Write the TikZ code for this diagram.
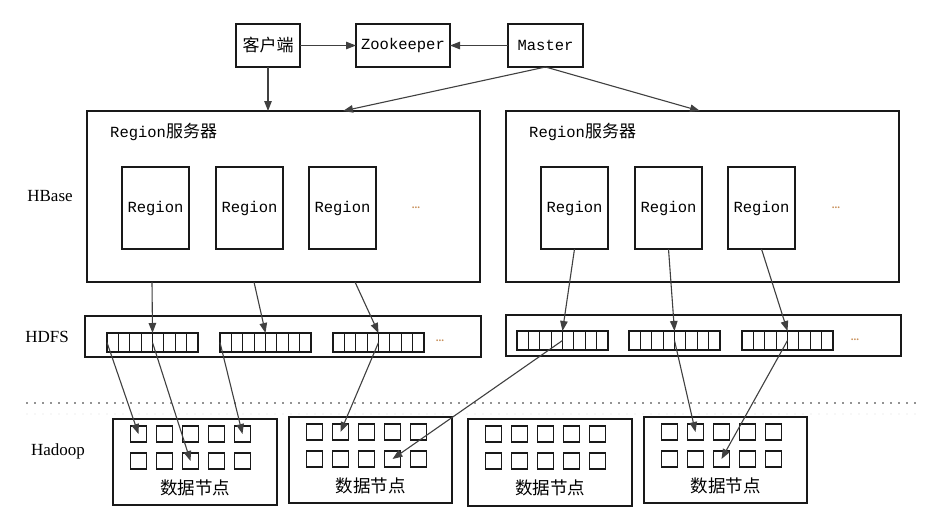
\documentclass[tikz,border=0pt]{standalone}
\usepackage{fontspec}
\setmainfont{Liberation Serif}
\newfontfamily\cjk{Noto Sans CJK SC}
\newfontfamily\monof{Liberation Mono}
\usetikzlibrary{arrows.meta,calc}
\definecolor{darkg}{HTML}{404040}
\definecolor{dotc}{HTML}{C8905A}
\tikzset{
  box/.style={draw=black!90, line width=1.2pt, inner sep=0pt, outer sep=0pt},
  arr/.style={draw=darkg, line width=1.1pt, -{Triangle[length=10pt,width=7.5pt]}},
  lbl/.style={font=\fontsize{17}{19}\selectfont, inner sep=0pt},
  mono/.style={font=\monof\fontsize{15.5}{18}\selectfont},
  cjkt/.style={font=\cjk\fontsize{17}{20}\selectfont},
  regionbox/.style={box, minimum width=67pt, minimum height=82pt, mono},
  sq/.style={box, minimum width=16pt, minimum height=16pt},
  ell/.style={text=dotc, font=\bfseries\fontsize{11}{12}\selectfont, inner sep=0pt},
}
\newcommand{\blockarr}[3]{% name, left x, center y
  \node[box, minimum width=91pt, minimum height=19pt, anchor=west] (#1) at (#2,#3) {};
  \foreach \k in {1,...,7} {
    \draw[line width=1.1pt, black!90] ($(#1.south west)+(\k*11.375,0)$) -- ($(#1.north west)+(\k*11.375,0)$);
  }
}
\newcommand{\datanode}[6]{% name, cx, cy, w, h, top
  \node[box, minimum width=#4pt, minimum height=#5pt] (#1) at (#2,#3) {};
  \foreach \c in {1,...,5} {
    \node[sq] (#1s\c) at ($(#1.north west)+(\c*26-0.5,15)$) {};
    \pgfmathtruncatemacro{\cc}{\c+5}
    \node[sq] (#1s\cc) at ($(#1.north west)+(\c*26-0.5,42)$) {};
  }
  \node[cjkt, font=\cjk\fontsize{17.5}{20}\selectfont] (#1t) at ($(#1.north west)+(#4/2,69)$) {数据节点};
}
\begin{document}
\begin{tikzpicture}[x=1pt,y=-1pt]
\useasboundingbox[fill=white] (0,0) rectangle (929,527);

% top row
\node[box, minimum width=64pt, minimum height=43pt, cjkt] (client) at (268,45.5) {客户端};
\node[box, minimum width=94pt, minimum height=43pt, mono] (zk) at (403,45.5) {Zookeeper};
\node[box, minimum width=75pt, minimum height=43pt, mono] (master) at (545.5,45.5) {Master};

% region servers
\node[box, minimum width=393pt, minimum height=171pt] (srvL) at (283.5,196.5) {};
\node[box, minimum width=393pt, minimum height=171pt] (srvR) at (702.5,196.5) {};
\node[anchor=west, inner sep=0pt] (srvLt) at (110,132) {{\monof\fontsize{15.5}{18}\selectfont Region}{\cjk\fontsize{17}{20}\selectfont 服务器}};
\node[anchor=west, inner sep=0pt] (srvRt) at (529,132) {{\monof\fontsize{15.5}{18}\selectfont Region}{\cjk\fontsize{17}{20}\selectfont 服务器}};

\node[regionbox] (rL1) at (155.5,208) {Region};
\node[regionbox] (rL2) at (249.5,208) {Region};
\node[regionbox] (rL3) at (342.5,208) {Region};
\node[ell] (eL) at (416,208) {...};
\node[regionbox] (rR1) at (574.5,208) {Region};
\node[regionbox] (rR2) at (668.5,208) {Region};
\node[regionbox] (rR3) at (761.5,208) {Region};
\node[ell] (eR) at (836,208) {...};

% HDFS
\node[box, minimum width=396pt, minimum height=41pt] (hdfsL) at (283,336.5) {};
\node[box, minimum width=395pt, minimum height=41pt] (hdfsR) at (703.5,335.5) {};
\blockarr{bL1}{107}{342.5}
\blockarr{bL2}{220}{342.5}
\blockarr{bL3}{333}{342.5}
\node[ell] (eHL) at (440,341) {...};
\blockarr{bR1}{517}{340.5}
\blockarr{bR2}{629}{340.5}
\blockarr{bR3}{742}{340.5}
\node[ell] (eHR) at (855,340) {...};

% labels
\node[lbl] (hbase) at (50,196) {HBase};
\node[lbl] (hdfs) at (47,337) {HDFS};
\node[lbl] (hadoop) at (58,451) {Hadoop};

% dotted separator
\coordinate (dl1) at (27,403);
\coordinate (dl2) at (915,403);
\coordinate (fl1) at (27,414);
\coordinate (fl2) at (915,414);
\draw[black!85, line width=1.8pt, line cap=round, dash pattern=on 0pt off 8pt] (dl1) -- (dl2);
\draw[black!12, line width=1.4pt, line cap=round, dash pattern=on 0pt off 8pt] (fl1) -- (fl2);

% data nodes
\datanode{d1}{195}{462}{164}{86}{419}
\datanode{d2}{370.5}{460}{163}{86}{417}
\datanode{d3}{550}{462.5}{164}{87}{419}
\datanode{d4}{725.5}{460}{163}{86}{417}

% top connectors
\draw[arr] (client.east) -- (zk.west);
\draw[arr] (master.west) -- (zk.east);
\draw[arr] (client.south) -- (client.south |- srvL.north);
\coordinate (mL) at ($(srvL.north)+(59.5,0)$);
\coordinate (mR) at ($(srvR.north)+(-2.5,0)$);
\draw[arr] (master.south) -- (mL);
\draw[arr] (master.south) -- (mR);

% server -> HDFS
\coordinate (sL1) at (152,282);
\coordinate (sL2) at (254,282);
\coordinate (sL3) at (355,282);
\draw[arr] (sL1) -- (bL1.north);
\draw[arr] (sL2) -- (bL2.north);
\draw[arr] (sL3) -- (bL3.north);
\draw[arr] (rR1.south) -- (bR1.north);
\draw[arr] (rR2.south) -- (bR2.north);
\draw[arr] (rR3.south) -- (bR3.north);

% HDFS -> data nodes
\draw[arr] (bL1.west) -- (d1s1.center);
\draw[arr] (bL1.center) -- (d1s8.center);
\draw[arr] (bL2.west) -- (d1s5.center);
\draw[arr] (bL3.center) -- (d2s2.center);
\draw[arr] (bR1.center) -- (d2s9.center);
\draw[arr] (bR2.center) -- (d4s2.center);
\draw[arr] (bR3.center) -- (d4s8.center);
\end{tikzpicture}
\end{document}
